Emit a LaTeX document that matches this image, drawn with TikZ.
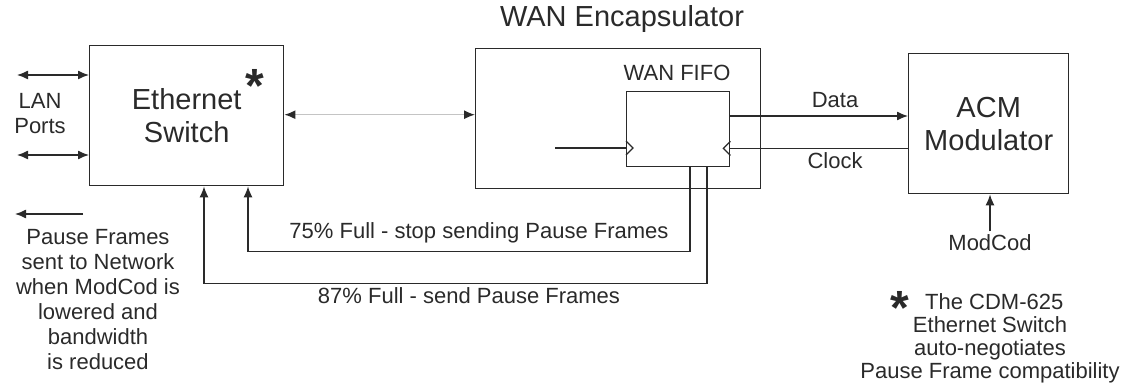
\documentclass[tikz,border=0pt]{standalone}
\usepackage{fontspec}
\setmainfont{Liberation Sans}
\usetikzlibrary{arrows.meta,positioning,calc}
\definecolor{ink}{HTML}{2A2A2A}
\definecolor{link}{HTML}{C4C4C4}

\begin{document}
\begin{tikzpicture}[x=1pt,y=-1pt,
  >={Latex[length=11pt,width=9pt]},
  every node/.append style={text=ink},
  blockbox/.style={draw=ink, line width=1.4pt, inner sep=0pt, anchor=north west},
  bigtext/.style={font=\fontsize{29}{33}\selectfont, align=center},
  smalltext/.style={font=\fontsize{22}{25}\selectfont, align=center},
  starmark/.style={font=\fontsize{48}{48}\selectfont\bfseries, inner sep=0pt},
  wire/.style={draw=ink, line width=1.3pt},
]
\useasboundingbox (0,0) rectangle (1123,387);
% --- blocks ---
\node[blockbox, bigtext, minimum width=194pt, minimum height=140pt] (switch) at (89,45) {Ethernet\\Switch};
\node[blockbox, minimum width=285pt, minimum height=140pt] (encap) at (475,48) {};
\node[blockbox, minimum width=103pt, minimum height=75pt] (fifo) at (626,91) {};
\node[blockbox, bigtext, minimum width=160pt, minimum height=140pt] (acm) at (908,53) {ACM\\Modulator};
% --- block titles ---
\node[bigtext] (encaptitle) at (622,19) {WAN Encapsulator};
\node[smalltext] (fifotitle) at (677,73) {WAN FIFO};
\node[starmark] (switchstar) at (255,86) {*};
% --- LAN side ---
\node[smalltext] (lanports) at (40,114) {LAN\\Ports};
\coordinate (lanup) at (17,75);
\coordinate (landown) at (17,155);
\foreach \p in {lanup,landown} {
  \draw[wire, <->] (\p) -- (\p -| switch.west);
}
\draw[link, line width=1.4pt, <->, >={Latex[length=11pt,width=9pt,color=ink]}] (switch.east) ++(0,-1) coordinate (trunk) -- (trunk -| encap.west);
% --- FIFO in and out ---
\coordinate (fifoin) at (555,148);
\draw[wire] (fifoin) -- (fifoin -| fifo.west);
\draw[wire] (fifoin -| fifo.west) ++(0,-7) -- ++(7,7) -- ++(-7,7);
\coordinate (dataout) at ($(fifo.north east)+(0,25)$);
\draw[wire, ->] (dataout) -- (dataout -| acm.west);
\coordinate (clockin) at ($(fifo.south east)+(0,-19)$);
\draw[wire] (clockin -| acm.west) -- (clockin);
\draw[wire] (clockin) ++(0,-7) -- ++(-7,7) -- ++(7,7);
\node[smalltext] (datalabel) at (835,100) {Data};
\node[smalltext] (clocklabel) at (835,161) {Clock};
% --- modcod ---
\node[smalltext] (modcod) at (990,243) {ModCod};
\draw[wire, ->] (modcod.north) -- (modcod.north |- acm.south);
% --- fill level feedback ---
\coordinate (stopout) at ($(fifo.south west)+(64,0)$);
\coordinate (stopin) at ($(switch.south west)+(159,0)$);
\coordinate (sendout) at ($(fifo.south west)+(81,0)$);
\coordinate (sendin) at ($(switch.south west)+(115,0)$);
\draw[wire, ->] (stopout) -- ++(0,84) -| (stopin);
\draw[wire, ->] (sendout) -- ++(0,116) -| (sendin);
\node[smalltext] (stoplabel) at (479,233) {75\% Full - stop sending Pause Frames};
\node[smalltext] (sendlabel) at (469,296) {87\% Full - send Pause Frames};
% --- notes ---
\coordinate (pausetail) at (83,214);
\coordinate (pausehead) at (15,214);
\draw[wire, ->] (pausetail) -- (pausehead);
\node[smalltext] (pausenote) at (98,300) {Pause Frames\\sent to Network\\when ModCod is\\lowered and\\bandwidth\\is reduced};
\node[starmark] (notestar) at (900,308) {*};
\node[smalltext, font=\fontsize{22}{23}\selectfont] (cdmnote) at (990,338) {\phantom{*}The CDM-625\\Ethernet Switch\\auto-negotiates\\Pause Frame compatibility};
\end{tikzpicture}
\end{document}
